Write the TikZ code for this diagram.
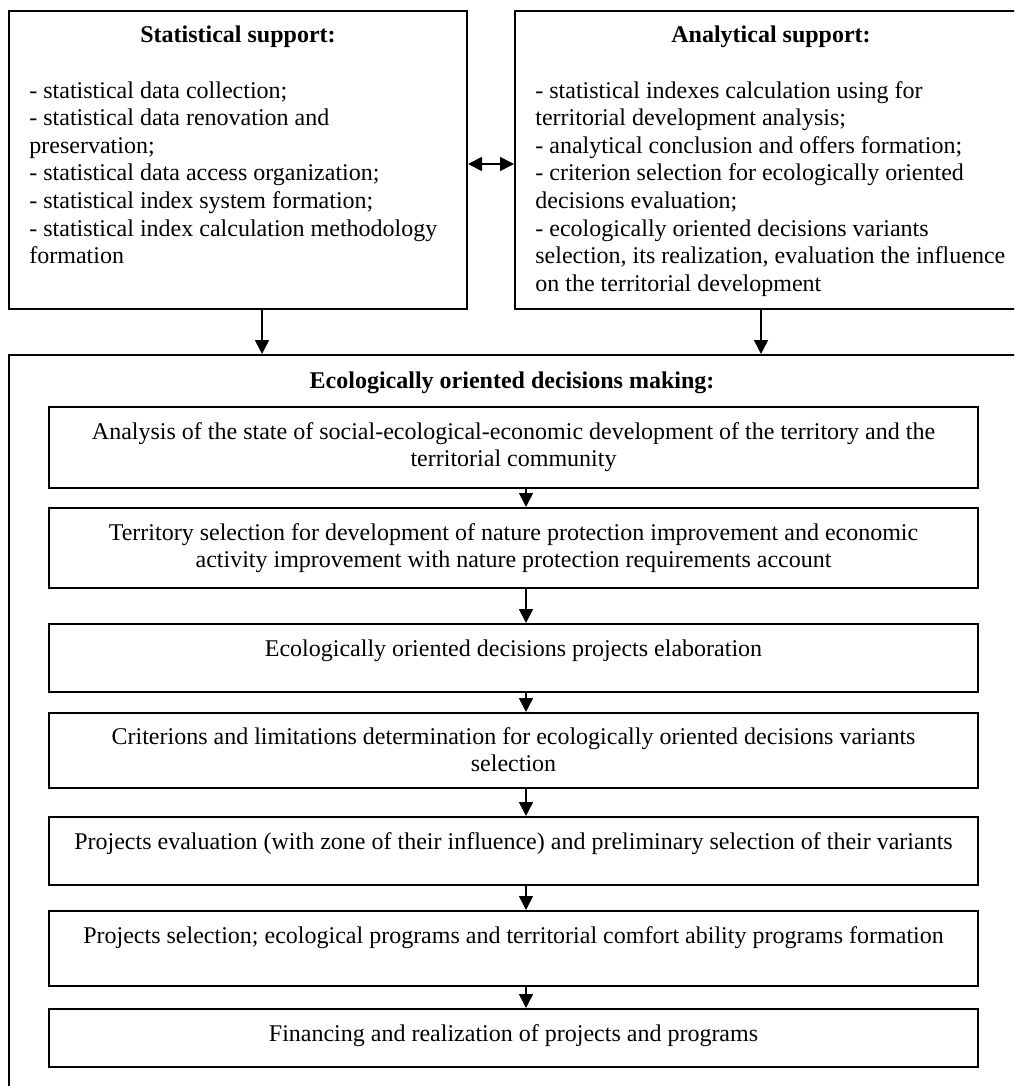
\documentclass[tikz,border=0pt]{standalone}
\usepackage{fontspec}
\setmainfont{Liberation Serif}
\usetikzlibrary{arrows.meta,calc}
\tikzset{
  box/.style={draw, line width=1pt, rectangle, inner sep=0pt, anchor=north west},
  txt/.style={inner sep=0pt, font=\fontsize{12}{13.8}\selectfont},
  arr/.style={line width=0.8pt, -{Triangle[length=7pt,width=7pt]}},
  darr/.style={line width=0.8pt, {Triangle[length=7pt,width=7pt]}-{Triangle[length=7pt,width=7pt]}}
}
\begin{document}
\begin{tikzpicture}[x=0.5pt,y=-0.5pt]
\useasboundingbox (0,0) rectangle (1014,1086);
\fill[white] (0,0) rectangle (1014,1086);
\clip (0,0) rectangle (1014,1086);
% top boxes
\node[box, minimum width=229pt, minimum height=149pt] (stat) at (8,10) {};
\node[box, minimum width=258pt, minimum height=149pt] (ana) at (514,10) {};
\node[txt, anchor=base] (stattitle) at ([yshift=-16.5pt]stat.north) {\textbf{Statistical support:}};
\node[txt, anchor=base west] (statlist) at ([xshift=10.5pt,yshift=-44pt]stat.north west)
 {\begin{tabular}[t]{@{}l@{}}
 - statistical data collection;\\
 - statistical data renovation and\\
 preservation;\\
 - statistical data access organization;\\
 - statistical index system formation;\\
 - statistical index calculation methodology\\
 formation
 \end{tabular}};
\node[txt, anchor=base] (anatitle) at ([xshift=-1pt,yshift=-16.5pt]ana.north) {\textbf{Analytical support:}};
\node[txt, anchor=base west] (analist) at ([xshift=10.5pt,yshift=-44pt]ana.north west)
 {\begin{tabular}[t]{@{}l@{}}
 - statistical indexes calculation using for\\
 territorial development analysis;\\
 - analytical conclusion and offers formation;\\
 - criterion selection for ecologically oriented\\
 decisions evaluation;\\
 - ecologically oriented decisions variants\\
 selection, its realization, evaluation the influence\\
 on the territorial development
 \end{tabular}};
\draw[darr] ([yshift=-2pt]stat.east) -- ([yshift=-2pt]ana.west);
% big box
\node[box, minimum width=506pt, minimum height=380pt] (big) at (8,354) {};
\node[txt, anchor=base] (bigtitle) at ([xshift=-1.5pt,yshift=-17pt]big.north) {\textbf{Ecologically oriented decisions making:}};
\draw[arr] ([xshift=12pt]stat.south) -- ([xshift=12pt]stat.south |- big.north);
\draw[arr] ([xshift=-6pt]ana.south) -- ([xshift=-6pt]ana.south |- big.north);
% inner boxes
\node[box, minimum width=464.5pt, minimum height=40.5pt] (b1) at (48,406) {};
\node[box, minimum width=464.5pt, minimum height=40pt] (b2) at (48,507) {};
\node[box, minimum width=464.5pt, minimum height=34pt] (b3) at (48,623) {};
\node[box, minimum width=464.5pt, minimum height=37.5pt] (b4) at (48,712) {};
\node[box, minimum width=464.5pt, minimum height=34pt] (b5) at (48,816) {};
\node[box, minimum width=464.5pt, minimum height=37.5pt] (b6) at (48,910) {};
\node[box, minimum width=464.5pt, minimum height=29pt] (b7) at (48,1008) {};
\node[txt, anchor=base] (t1) at ([yshift=-16.5pt]b1.north)
 {\begin{tabular}[t]{@{}c@{}}Analysis of the state of social-ecological-economic development of the territory and the\\ territorial community\end{tabular}};
\node[txt, anchor=base] (t2) at ([yshift=-16.5pt]b2.north)
 {\begin{tabular}[t]{@{}c@{}}Territory selection for development of nature protection improvement and economic\\ activity improvement with nature protection requirements account\end{tabular}};
\node[txt, anchor=base] (t3) at ([yshift=-16.5pt]b3.north) {Ecologically oriented decisions projects elaboration};
\node[txt, anchor=base] (t4) at ([yshift=-16pt]b4.north)
 {\begin{tabular}[t]{@{}c@{}}Criterions and limitations determination for ecologically oriented decisions variants\\ selection\end{tabular}};
\node[txt, anchor=base] (t5) at ([yshift=-16.5pt]b5.north) {Projects evaluation (with zone of their influence) and preliminary selection of their variants};
\node[txt, anchor=base] (t6) at ([yshift=-16.5pt]b6.north) {Projects selection; ecological programs and territorial comfort ability programs formation};
\node[txt, anchor=base] (t7) at ([yshift=-16.5pt]b7.north) {Financing and realization of projects and programs};
\foreach \a/\b in {b1/b2,b2/b3,b3/b4,b4/b5,b5/b6,b6/b7}
  \draw[arr] ([xshift=6.25pt]\a.south) -- ([xshift=6.25pt]\b.north);
\end{tikzpicture}
\end{document}
